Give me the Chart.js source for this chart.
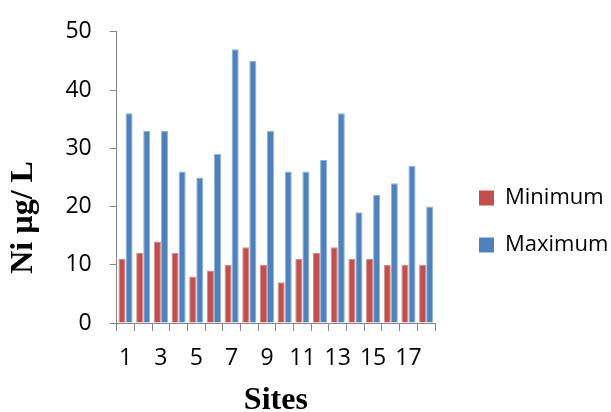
<!DOCTYPE html>
<html>
<head>
<meta charset="utf-8">
<script src="https://cdn.jsdelivr.net/npm/chart.js@4/dist/chart.umd.min.js"></script>
<style>
  html, body { margin: 0; padding: 0; background: #fff; }
  canvas { display: block; }
</style>
</head>
<body>
<canvas id="c" width="611" height="412"></canvas>
<script>
// ---- data ----
const sites = ["1","2","3","4","5","6","7","8","9","10","11","12","13","14","15","16","17","18"];
const minimum = [11,12,14,12,8,9,10,13,10,7,11,12,13,11,11,10,10,10];
const maximum = [36,33,33,26,25,29,47,45,33,26,26,28,36,19,22,24,27,20];
const yTicks = [0,10,20,30,40,50];
const seriesNames = ["Minimum", "Maximum"];
const xTitle = "Sites";
const yTitle = "Ni µg/ L";

function draw() {
  Chart.defaults.font.family = "'Open Sans', sans-serif";
  Chart.defaults.color = "#000";

  // legend: reserve a fixed width on the right, then place it like the reference
  const legendPlace = {
    id: 'legendPlace',
    beforeUpdate(chart) {
      const lg = chart.legend;
      if (lg && !lg._fixedFit) {
        const f = lg.fit;
        lg.fit = function() { f.call(this); this.width = 176; };
        lg._fixedFit = true;
      }
    },
    afterLayout(chart) {
      const lg = chart.legend;
      if (lg) { lg.left = 454; lg.right = 611; lg.top = 162; }
      const s = chart.scales.y;
      if (s && !s._shiftTitle) {
        const d = s.drawTitle;
        s.drawTitle = function() {
          this.top += 40; this.bottom += 40;
          d.apply(this, arguments);
          this.top -= 40; this.bottom -= 40;
        };
        s._shiftTitle = true;
      }
    }
  };

  const axisColor = "#868686";
  const serif = "'Liberation Serif', 'Times New Roman', serif";

  new Chart(document.getElementById('c'), {
    type: 'bar',
    data: {
      labels: sites,
      datasets: [
        { label: seriesNames[0], data: minimum, backgroundColor: "#C0504D",
          borderColor: "#D68B89", borderWidth: { top: 1, left: 1, right: 1, bottom: 0 },
          categoryPercentage: 0.8, barPercentage: 1.0 },
        { label: seriesNames[1], data: maximum, backgroundColor: "#4F81BD",
          borderColor: "#93B1D8", borderWidth: { top: 1, left: 1, right: 1, bottom: 0 },
          categoryPercentage: 0.8, barPercentage: 1.0 }
      ]
    },
    options: {
      responsive: false,
      devicePixelRatio: 1,
      animation: false,
      layout: { autoPadding: false, padding: { left: 0, top: 23, right: 0, bottom: 1.4 } },
      plugins: {
        tooltip: { enabled: false },
        legend: {
          position: 'right',
          align: 'start',
          labels: {
            boxWidth: 15, boxHeight: 15, padding: 25,
            font: { size: 22 }, color: "#000",
            generateLabels: function(chart) {
              return chart.data.datasets.map((ds, i) => ({
                text: ds.label, fillStyle: ds.backgroundColor, strokeStyle: ds.backgroundColor,
                lineWidth: 0, hidden: false, datasetIndex: i
              }));
            }
          }
        }
      },
      scales: {
        x: {
          grid: { drawOnChartArea: false, drawTicks: true, tickLength: 8, color: axisColor, offset: true },
          border: { color: axisColor, width: 1 },
          ticks: {
            autoSkip: false, maxRotation: 0, minRotation: 0, padding: 14,
            font: { size: 23 }, color: "#000",
            callback: function(v, i) { return i % 2 === 0 ? sites[i] : ''; }
          },
          title: {
            display: true, text: xTitle, color: "#000",
            font: { family: serif, size: 32, weight: 'bold', lineHeight: 0.6 },
            padding: { top: 4.8, bottom: 0 }
          }
        },
        y: {
          min: 0, max: 50,
          afterBuildTicks: function(scale) { scale.ticks = yTicks.map(v => ({ value: v })); },
          grid: { drawOnChartArea: false, drawTicks: true, tickLength: 7, color: axisColor },
          border: { color: axisColor, width: 1 },
          ticks: { padding: 18, font: { size: 23 }, color: "#000" },
          title: {
            display: true, text: yTitle, color: "#000",
            font: { family: serif, size: 32, weight: 'bold', lineHeight: 0.95 },
            padding: { top: 9, bottom: 8 }
          }
        }
      }
    },
    plugins: [legendPlace]
  });
}

if (document.fonts && document.fonts.load) {
  Promise.all([
    document.fonts.load("23px 'Open Sans'"),
    document.fonts.load("bold 32px 'Liberation Serif'")
  ]).then(draw, draw);
} else {
  draw();
}
</script>
</body>
</html>
